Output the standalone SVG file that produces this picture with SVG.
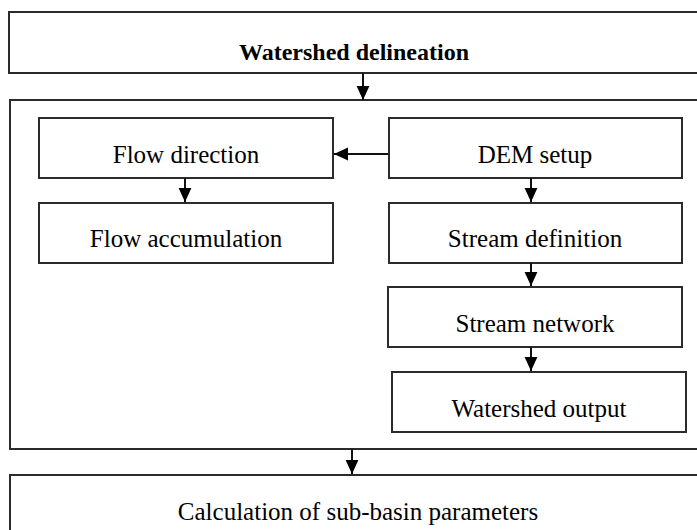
<svg xmlns="http://www.w3.org/2000/svg" width="697" height="530" viewBox="0 0 697 530">
<defs>
<style>
.box{fill:#fff;stroke:#2b2b2b;stroke-width:2}
.lbl{font-size:25px;fill:#000;text-anchor:middle}
.ttl{font-size:24px;font-weight:bold;fill:#000;text-anchor:middle}
.con{stroke:#111;stroke-width:2;fill:none;marker-end:url(#ah)}
</style>
<marker id="ah" markerUnits="userSpaceOnUse" markerWidth="14" markerHeight="14" viewBox="0 0 12 12" refX="12" refY="6" orient="auto">
<path d="M0,0.5 L12,6 L0,11.5 Z" fill="#000"/>
</marker>
</defs>
<rect width="697" height="530" fill="#fff"/>
<g font-family="'Liberation Serif', 'DejaVu Serif', 'Times New Roman', serif">
<g id="watershed-delineation">
<rect class="box" x="9" y="12" width="700" height="61"/>
<text class="ttl" x="354" y="60">Watershed delineation</text>
</g>
<g id="process-container">
<rect class="box" x="10" y="100" width="700" height="349"/>
</g>
<g id="flow-direction">
<rect class="box" x="39" y="118" width="294" height="60"/>
<text class="lbl" x="186" y="163">Flow direction</text>
</g>
<g id="flow-accumulation">
<rect class="box" x="39" y="203" width="294" height="60"/>
<text class="lbl" x="186" y="247">Flow accumulation</text>
</g>
<g id="dem-setup">
<rect class="box" x="389" y="118" width="293" height="60"/>
<text class="lbl" x="535" y="163">DEM setup</text>
</g>
<g id="stream-definition">
<rect class="box" x="389" y="203" width="293" height="60"/>
<text class="lbl" x="535" y="247">Stream definition</text>
</g>
<g id="stream-network">
<rect class="box" x="388" y="287" width="294" height="60"/>
<text class="lbl" x="535" y="332">Stream network</text>
</g>
<g id="watershed-output">
<rect class="box" x="392" y="372" width="294" height="60"/>
<text class="lbl" x="539" y="417">Watershed output</text>
</g>
<g id="sub-basin-parameters">
<rect class="box" x="10" y="475" width="700" height="70"/>
<text class="lbl" x="358" y="520">Calculation of sub-basin parameters</text>
</g>
</g>
<g id="connectors">
<line class="con" x1="363" y1="73" x2="363" y2="100"/>
<line class="con" x1="388" y1="154" x2="334" y2="154"/>
<line class="con" x1="185" y1="178" x2="185" y2="202"/>
<line class="con" x1="531" y1="178" x2="531" y2="202"/>
<line class="con" x1="531" y1="263" x2="531" y2="286"/>
<line class="con" x1="531" y1="347" x2="531" y2="371"/>
<line class="con" x1="352" y1="449" x2="352" y2="474"/>
</g>
</svg>
